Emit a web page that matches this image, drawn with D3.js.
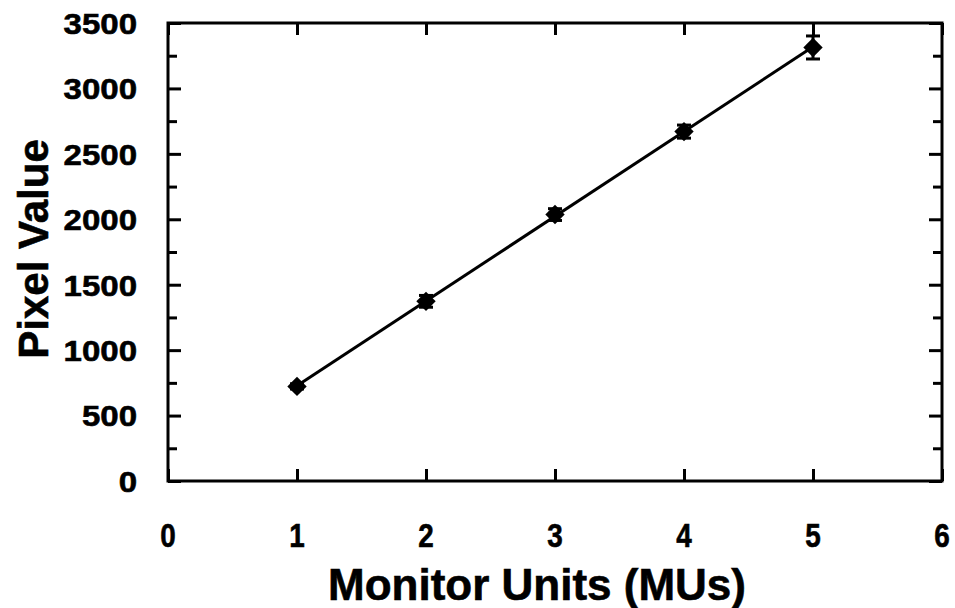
<!DOCTYPE html>
<html>
<head>
<meta charset="utf-8">
<script src="https://cdn.jsdelivr.net/npm/d3@7"></script>
<style>
  html, body { margin: 0; padding: 0; background: #fff; }
  svg text { font-family: "Liberation Sans", Arial, Helvetica, sans-serif; font-weight: bold; fill: #000; }
</style>
</head>
<body>
<svg id="chart" width="955" height="608"></svg>
<script>
// Measured pixel value at each dose level
const monitorUnits = [1, 2, 3, 4, 5];
const pixelValues  = [723, 1373, 2036, 2670, 3313];
const pixelErrors  = [20, 45, 45, 50, 88];

const xTicks = [0, 1, 2, 3, 4, 5, 6];
const yTicks = [0, 500, 1000, 1500, 2000, 2500, 3000, 3500];
const yMinorTicks = [250, 750, 1250, 1750, 2250, 2750, 3250];

const xTitle = "Monitor Units (MUs)";
const yTitle = "Pixel Value";

const svg = d3.select("#chart");
const plotL = 168, plotR = 942, plotT = 23, plotB = 481;

const x = d3.scaleLinear().domain([0, 6]).range([plotL, plotR]);
const y = d3.scaleLinear().domain([0, 3500]).range([plotB, plotT]);

// Least-squares fit through the measurements
const mx = d3.mean(monitorUnits), my = d3.mean(pixelValues);
const slope = d3.sum(monitorUnits, (d, i) => (d - mx) * (pixelValues[i] - my)) /
              d3.sum(monitorUnits, d => (d - mx) * (d - mx));
const intercept = my - slope * mx;
const fitX = [d3.min(monitorUnits), d3.max(monitorUnits)];

// Ticks pointing inward on all four sides
const sw = 3;
function tickAxis(axisFn, scale, values, size, pos, vertical) {
  svg.append("g")
    .attr("transform", vertical ? `translate(${pos},0)` : `translate(0,${pos})`)
    .call(axisFn(scale).tickValues(values).tickSizeInner(-size).tickSizeOuter(0).tickFormat(""))
    .call(a => a.select(".domain").remove())
    .selectAll("line").attr("stroke", "#000").attr("stroke-width", sw);
}
tickAxis(d3.axisLeft, y, yMinorTicks, 9, plotL, true);
tickAxis(d3.axisLeft, y, yTicks, 13, plotL, true);
tickAxis(d3.axisRight, y, yMinorTicks, 9, plotR, true);
tickAxis(d3.axisRight, y, yTicks, 13, plotR, true);
tickAxis(d3.axisBottom, x, xTicks, 12, plotB, false);
tickAxis(d3.axisTop, x, xTicks, 12, plotT, false);

// Frame
svg.append("rect")
  .attr("x", plotL).attr("y", plotT)
  .attr("width", plotR - plotL).attr("height", plotB - plotT)
  .attr("fill", "none").attr("stroke", "#000").attr("stroke-width", sw);

// Tick labels
svg.append("g").selectAll("text").data(yTicks).join("text")
  .attr("x", 137).attr("y", d => y(d))
  .attr("text-anchor", "end").attr("dy", "0.36em")
  .attr("font-size", 30)
  .attr("stroke", "#000").attr("stroke-width", 0.6)
  .attr("transform", "translate(137,0) scale(1.1,1) translate(-137,0)")
  .text(d => d);
svg.append("g").selectAll("text").data(xTicks).join("text")
  .attr("x", d => x(d)).attr("y", 535)
  .attr("text-anchor", "middle").attr("dy", "0.36em")
  .attr("font-size", 34)
  .attr("stroke", "#000").attr("stroke-width", 0.6)
  .attr("transform", d => `translate(${x(d)},0) scale(0.82,1) translate(${-x(d)},0)`)
  .text(d => d);

// Axis titles
svg.append("text")
  .attr("x", 537).attr("y", 584)
  .attr("text-anchor", "middle").attr("dy", "0.36em")
  .attr("font-size", 44)
  .attr("stroke", "#000").attr("stroke-width", 0.6)
  .text(xTitle);
svg.append("text")
  .attr("transform", "translate(33,249) rotate(-90)")
  .attr("text-anchor", "middle").attr("dy", "0.36em")
  .attr("font-size", 42)
  .attr("stroke", "#000").attr("stroke-width", 0.6)
  .text(yTitle);

// Fitted line
svg.append("line")
  .attr("x1", x(fitX[0])).attr("y1", y(intercept + slope * fitX[0]))
  .attr("x2", x(fitX[1])).attr("y2", y(intercept + slope * fitX[1]))
  .attr("stroke", "#000").attr("stroke-width", 3);

// Error bars
const pts = monitorUnits.map((m, i) => ({ m, v: pixelValues[i], e: pixelErrors[i] }));
const eb = svg.append("g").attr("stroke", "#000").attr("stroke-width", 3);
eb.selectAll(".v").data(pts).join("line").attr("class", "v")
  .attr("x1", d => x(d.m)).attr("x2", d => x(d.m))
  .attr("y1", d => y(d.v - d.e)).attr("y2", d => y(d.v + d.e));
eb.selectAll(".c1").data(pts).join("line").attr("class", "c1")
  .attr("x1", d => x(d.m) - 7).attr("x2", d => x(d.m) + 7)
  .attr("y1", d => y(d.v + d.e)).attr("y2", d => y(d.v + d.e));
eb.selectAll(".c2").data(pts).join("line").attr("class", "c2")
  .attr("x1", d => x(d.m) - 7).attr("x2", d => x(d.m) + 7)
  .attr("y1", d => y(d.v - d.e)).attr("y2", d => y(d.v - d.e));

// Diamond markers
svg.append("g").selectAll("path").data(pts).join("path")
  .attr("d", d3.symbol(d3.symbolDiamond2, 240))
  .attr("transform", d => `translate(${x(d.m)},${y(d.v)})`)
  .attr("fill", "#000");
</script>
</body>
</html>
